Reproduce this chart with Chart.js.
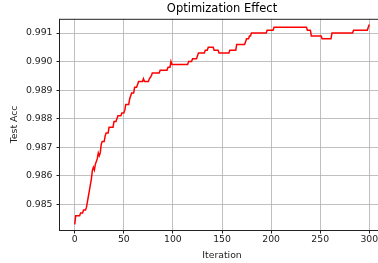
<!DOCTYPE html>
<html>
<head>
<meta charset="utf-8">
<script src="https://cdn.jsdelivr.net/npm/chart.js@4/dist/chart.umd.min.js"></script>
<style>
  body { margin: 0; overflow: hidden; background: #fff; }
  #wrap { width: 444px; height: 263px; }
</style>
</head>
<body>
<div id="wrap"><canvas id="chart" width="444" height="263"></canvas></div>
<script>
// breakpoints of the accuracy curve
const iterations = [0, 1, 5, 6, 8, 9, 11, 12, 13, 14, 15, 16, 17, 18, 19, 20, 21, 22, 23, 24, 25, 26, 27, 28, 30, 31, 32, 34, 35, 39,
  40, 42, 43, 44, 47, 48, 50, 51, 52, 55, 56, 57, 58, 60, 61, 63, 64, 65, 69, 70, 71, 75, 76, 78, 79, 86, 87, 94, 95, 97,
  98, 99, 115, 116, 119, 120, 124, 125, 126, 132, 133, 135, 136, 141, 142, 146, 147, 157, 158, 164, 165, 173, 174, 175, 177, 178, 179, 180,
  195, 196, 202, 203, 236, 237, 240, 241, 251, 252, 261, 262, 283, 284, 298, 299, 300];
const testAcc = [0.9843, 0.9846, 0.9846, 0.9847, 0.9847, 0.9848, 0.9848, 0.9849, 0.9851, 0.9853, 0.9855, 0.9857, 0.9859, 0.9862, 0.9863, 0.9862, 0.9864, 0.9865, 0.9866, 0.9868, 0.9867, 0.9868, 0.9871, 0.9872, 0.9872, 0.9874, 0.9875, 0.9875, 0.9877, 0.9877,
  0.9879, 0.9879, 0.9880, 0.9881, 0.9881, 0.9882, 0.9882, 0.9883, 0.9885, 0.9885, 0.9887, 0.9888, 0.9889, 0.9889, 0.9891, 0.9891, 0.9892, 0.9893, 0.9893, 0.9894, 0.9893, 0.9893, 0.9894, 0.9895, 0.9896, 0.9896, 0.9897, 0.9897, 0.9898, 0.9898,
  0.9900, 0.9899, 0.9899, 0.9900, 0.9900, 0.9901, 0.9901, 0.9902, 0.9903, 0.9903, 0.9904, 0.9904, 0.9905, 0.9905, 0.9904, 0.9904, 0.9903, 0.9903, 0.9904, 0.9904, 0.9906, 0.9906, 0.9907, 0.9908, 0.9908, 0.9909, 0.9909, 0.9910,
  0.9910, 0.9911, 0.9911, 0.9912, 0.9912, 0.9911, 0.9911, 0.9909, 0.9909, 0.9908, 0.9908, 0.9910, 0.9910, 0.9911, 0.9911, 0.9912, 0.9913];
const xTicks = [0, 50, 100, 150, 200, 250, 300];
const yTicks = [0.985, 0.986, 0.987, 0.988, 0.989, 0.990, 0.991];

Chart.defaults.font.family = 'DejaVu Sans';
Chart.defaults.color = '#000';

// matplotlib style box around the plot area
const frame = {
  id: 'frame',
  afterDraw(c) {
    const a = c.chartArea, ctx = c.ctx;
    ctx.save();
    ctx.strokeStyle = '#222';
    ctx.lineWidth = 1;
    ctx.strokeRect(a.left - 0.5, a.top + 0.5, a.right - a.left + 1, a.bottom - a.top);
    ctx.restore();
  }
};

const gridOpts = { color: '#b0b0b0', lineWidth: 0.8, tickColor: '#222', tickLength: 3.5, tickWidth: 1 };

new Chart(document.querySelector('#chart'), {
  type: 'line',
  data: {
    datasets: [{
      data: iterations.map((it, i) => ({ x: it, y: testAcc[i] })),
      borderColor: '#ff0000',
      borderWidth: 1.5,
      pointRadius: 0,
      tension: 0
    }]
  },
  options: {
    responsive: false,
    animation: false,
    layout: { padding: 0 },
    plugins: {
      legend: { display: false },
      tooltip: { enabled: false },
      title: {
        display: true,
        text: 'Optimization Effect',
        font: { size: 11.5, weight: 'normal' },
        color: '#000',
        padding: { top: 2, bottom: 3 }
      }
    },
    scales: {
      x: {
        type: 'linear',
        min: -15, max: 315,
        grid: gridOpts,
        border: { display: false },
        afterBuildTicks: s => { s.ticks = xTicks.map(v => ({ value: v })); },
        afterFit: s => { s.height = 33; },
        ticks: { font: { size: 9.3 }, color: '#222', padding: 1, maxRotation: 0 },
        title: { display: true, text: 'Iteration', font: { size: 9.3 }, color: '#222', padding: { top: 0, bottom: 1.7 } }
      },
      y: {
        min: 0.9841, max: 0.9915,
        grid: gridOpts,
        border: { display: false },
        afterBuildTicks: s => { s.ticks = yTicks.map(v => ({ value: v })); },
        afterFit: s => { s.width = 60; },
        ticks: { font: { size: 9.3 }, color: '#222', padding: 4, callback: v => v.toFixed(3) },
        title: { display: true, text: 'Test Acc', font: { size: 9.3 }, color: '#222', padding: { top: 9.4, bottom: 0 } }
      },
      // empty right-hand space so the cropped plot and the centred title line up
      pad: {
        position: 'right',
        display: true,
        grid: { display: false },
        border: { display: false },
        ticks: { display: false },
        afterFit: s => { s.width = 60; }
      }
    }
  },
  plugins: [frame]
});
</script>
</body>
</html>
